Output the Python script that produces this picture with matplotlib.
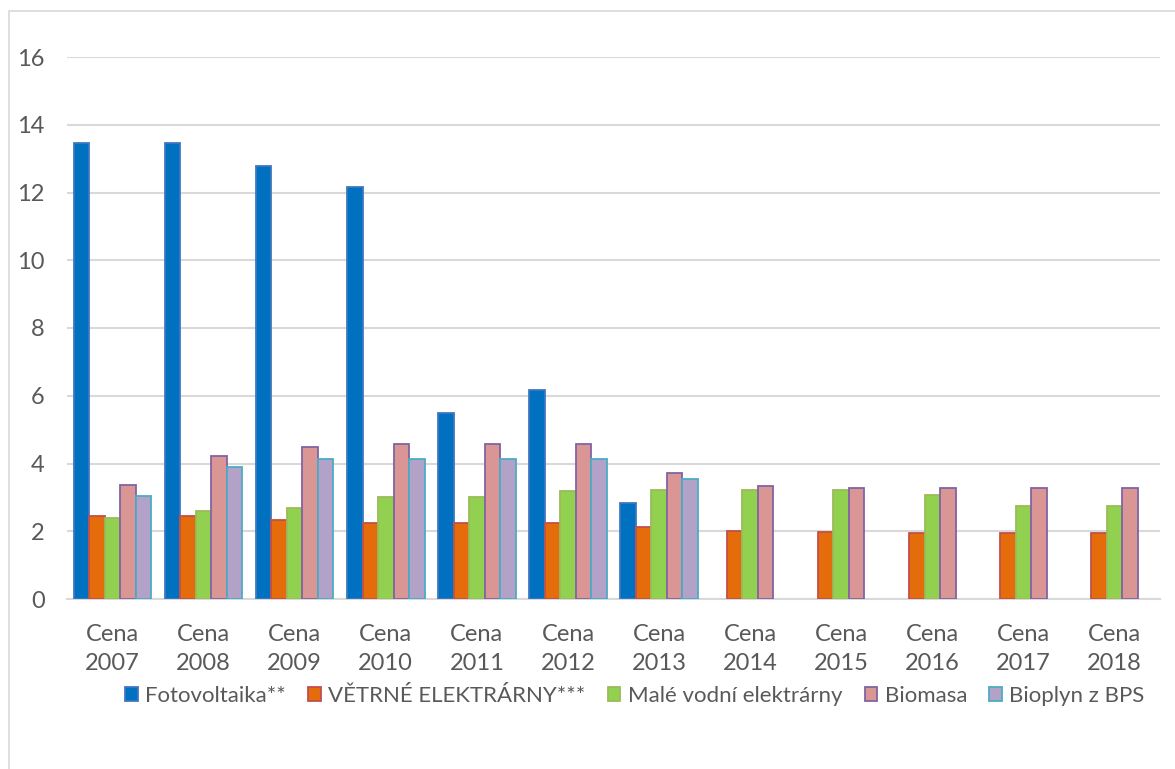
import matplotlib.pyplot as plt
import numpy as np
from matplotlib.patches import Patch, Rectangle

nan = np.nan

# purchase prices by year (CZK/kWh)
years = ["2007", "2008", "2009", "2010", "2011", "2012",
         "2013", "2014", "2015", "2016", "2017", "2018"]
tick_labels = ["Cena\n" + y for y in years]

series_names = ["Fotovoltaika**", "VĚTRNÉ ELEKTRÁRNY***",
                "Malé vodní elektrárny", "Biomasa", "Bioplyn z BPS"]
fotovoltaika = [13.46, 13.46, 12.79, 12.15, 5.50, 6.16, 2.83,
                nan, nan, nan, nan, nan]
vetrne = [2.46, 2.46, 2.34, 2.23, 2.23, 2.23, 2.12,
          2.01, 1.98, 1.94, 1.94, 1.94]
male_vodni = [2.39, 2.60, 2.70, 3.00, 3.00, 3.19, 3.23,
              3.23, 3.23, 3.08, 2.75, 2.75]
biomasa = [3.37, 4.21, 4.49, 4.58, 4.58, 4.58, 3.73,
           3.34, 3.27, 3.27, 3.27, 3.27]
bioplyn = [3.04, 3.90, 4.12, 4.12, 4.12, 4.12, 3.55,
           nan, nan, nan, nan, nan]

all_series = [fotovoltaika, vetrne, male_vodni, biomasa, bioplyn]
fills = ["#0070c0", "#e46c0a", "#92d050", "#d99694", "#b3a2c7"]
edges = ["#3f78c0", "#c0504d", "#9bbb59", "#8064a2", "#4bacc6"]

plt.rcParams['font.family'] = ['Lato', 'DejaVu Sans']
text_color = "#595959"
fsize = 17

fig = plt.figure(figsize=(11.75, 7.69), dpi=100)
ax = fig.add_axes([67 / 1175, 1 - 599 / 769, (1160 - 67) / 1175, (599 - 57) / 769])

# light frame around the whole chart
fig.patches.append(Rectangle((8.5 / 1175, -0.1), 1.2, 1 - 10.5 / 769 + 0.1,
                             transform=fig.transFigure, fill=False,
                             edgecolor="#d9d9d9", linewidth=1.2))

x = np.arange(len(years))
w = 0.17
for j, vals in enumerate(all_series):
    ax.bar(x + (j - 2) * w, vals, width=w, color=fills[j],
           edgecolor=edges[j], linewidth=1.3, zorder=3)

ax.set_xlim(-0.5, len(years) - 0.5)
ax.set_ylim(0, 16)
ax.set_yticks(np.arange(0, 17, 2))
ax.set_xticks(x)
ax.set_xticklabels(tick_labels)

ax.grid(axis="y", color="#d9d9d9", linewidth=1.5, zorder=0)
for s in ["top", "right", "left"]:
    ax.spines[s].set_visible(False)
ax.spines["bottom"].set_color("#d9d9d9")
ax.spines["bottom"].set_linewidth(1.5)
ax.tick_params(axis="both", length=0, labelsize=fsize, labelcolor=text_color)
ax.tick_params(axis="y", pad=16)
ax.tick_params(axis="x", pad=18)
for lbl in ax.get_xticklabels():
    lbl.set_linespacing(1.48)

handles = [Patch(facecolor=fills[j], edgecolor=edges[j], linewidth=1.3)
           for j in range(len(series_names))]
fig.legend(handles, series_names, loc="center", ncol=5,
           bbox_to_anchor=(635 / 1175, 1 - 696 / 769), frameon=False,
           fontsize=16, labelcolor=text_color, handlelength=0.55,
           handleheight=0.55, handletextpad=0.35, columnspacing=1.0)

fig.savefig("out.png", dpi=100)
